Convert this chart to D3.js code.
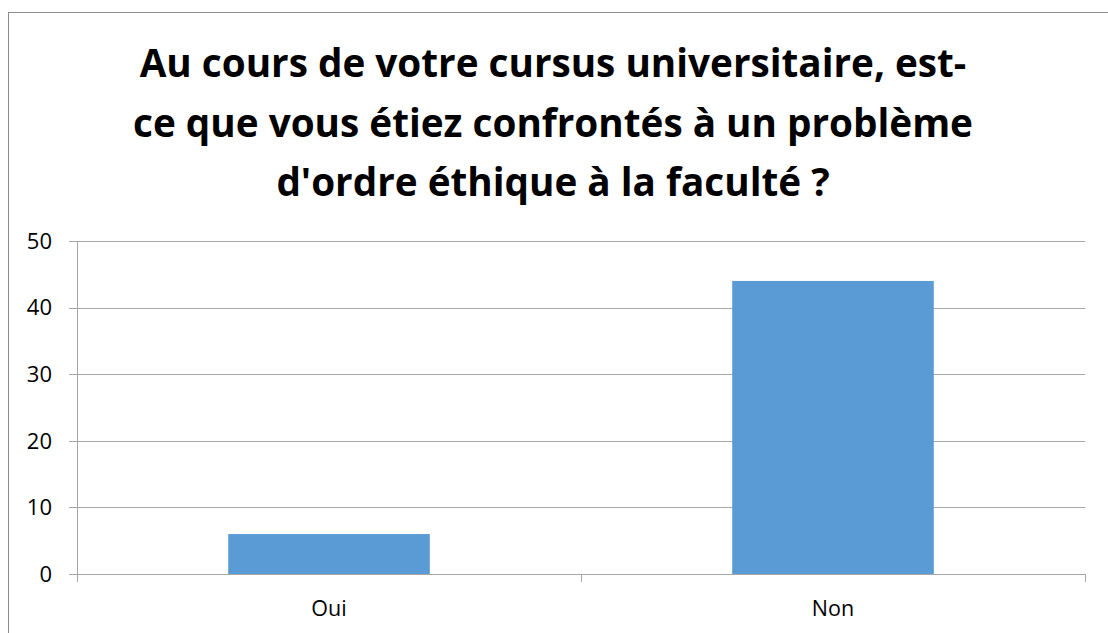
<!DOCTYPE html>
<html>
<head>
<meta charset="utf-8">
<script src="https://cdn.jsdelivr.net/npm/d3@7"></script>
<style>
  body { margin: 0; background: #fff; }
  svg { display: block; }
</style>
</head>
<body>
<div id="chart"></div>
<script>
let categories = ['Oui', 'Non']
let values = [6, 44]
let yTicks = [0, 10, 20, 30, 40, 50]
let titleLines = [
	'Au cours de votre cursus universitaire, est-',
	'ce que vous étiez confrontés à un problème',
	"d'ordre éthique à la faculté ?"
]

let width = 1108, height = 633
let plot = { left: 77, right: 1085, top: 241, bottom: 574 }
let font = "'Open Sans', 'Liberation Sans', sans-serif"

let svg = d3.select('#chart').append('svg')
	.attr('width', width)
	.attr('height', height)

// chart frame
svg.append('rect')
	.attr('x', 8.5).attr('y', 12.5)
	.attr('width', 1120).attr('height', 640)
	.attr('fill', '#fff')
	.attr('stroke', '#8c8c8c')

let x = d3.scaleBand()
	.domain(categories)
	.range([plot.left, plot.right])
	.paddingInner(0.6)
	.paddingOuter(0.3)

let xEdges = d3.scalePoint()
	.domain(d3.range(categories.length + 1))
	.range([plot.left, plot.right])

let y = d3.scaleLinear()
	.domain([0, 50])
	.range([plot.bottom, plot.top])

// gridlines
svg.append('g')
	.selectAll('line')
	.data(yTicks)
	.join('line')
	.attr('x1', plot.left - 8).attr('x2', plot.right)
	.attr('y1', d => Math.round(y(d)) + 0.5)
	.attr('y2', d => Math.round(y(d)) + 0.5)
	.attr('stroke', '#a6a6a6')

// y axis line
svg.append('line')
	.attr('x1', plot.left + 0.5).attr('x2', plot.left + 0.5)
	.attr('y1', plot.top).attr('y2', plot.bottom + 8)
	.attr('stroke', '#a6a6a6')

// x tick marks at category boundaries
svg.append('g')
	.selectAll('line')
	.data(xEdges.domain())
	.join('line')
	.attr('x1', d => Math.round(xEdges(d)) + 0.5)
	.attr('x2', d => Math.round(xEdges(d)) + 0.5)
	.attr('y1', plot.bottom).attr('y2', plot.bottom + 8)
	.attr('stroke', '#a6a6a6')

// y labels
svg.append('g')
	.selectAll('text')
	.data(yTicks)
	.join('text')
	.attr('x', 52)
	.attr('y', d => y(d))
	.attr('dy', '0.35em')
	.attr('text-anchor', 'end')
	.attr('font-family', font)
	.attr('font-size', 22)
	.attr('fill', '#000')
	.text(d => d)

// bars
svg.append('g')
	.selectAll('rect')
	.data(values)
	.join('rect')
	.attr('x', (d, i) => x(categories[i]))
	.attr('width', x.bandwidth())
	.attr('y', d => y(d))
	.attr('height', d => y(0) - y(d))
	.attr('fill', '#5b9bd5')

// category labels
svg.append('g')
	.selectAll('text')
	.data(categories)
	.join('text')
	.attr('x', d => x(d) + x.bandwidth() / 2)
	.attr('y', 608)
	.attr('dy', '0.35em')
	.attr('text-anchor', 'middle')
	.attr('font-family', font)
	.attr('font-size', 21.5)
	.attr('fill', '#000')
	.text(d => d)

// title
svg.append('g')
	.selectAll('text')
	.data(titleLines)
	.join('text')
	.attr('x', 553)
	.attr('y', (d, i) => 77 + i * 59.5)
	.attr('text-anchor', 'middle')
	.attr('font-family', font)
	.attr('font-weight', 'bold')
	.attr('font-size', 38.7)
	.attr('fill', '#000')
	.text(d => d)
</script>
</body>
</html>
